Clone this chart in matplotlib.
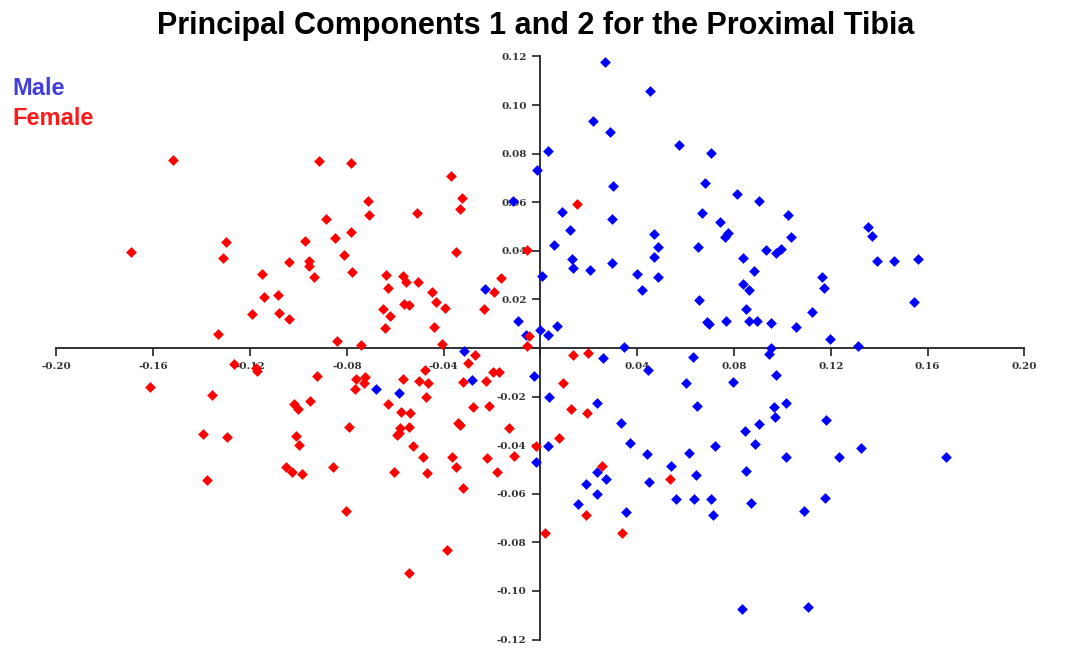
# pca_tibia_scatter.py
# Scatter of PC1 vs PC2 scores for the proximal tibia, split by sex

import matplotlib
matplotlib.use("Agg")
import matplotlib.pyplot as plt
from matplotlib.ticker import FixedLocator, FuncFormatter

plt.rcParams["axes.unicode_minus"] = False

# === 1. PC scores ===
male_pc1 = [
    0.0267, 0.0452, 0.0217, 0.0287, 0.0031, -0.0014, 0.0572, 0.0705, 0.0300, 0.0680,
    -0.0114, 0.0089, 0.0295, 0.0667, 0.0742, 0.0122, 0.0056, 0.0469, 0.0486, 0.0651,
    0.0130, 0.0134, 0.0205, 0.0295, 0.0469, 0.0486, 0.0399, 0.0419, 0.0006, -0.0229,
    -0.0093, 0.0031, 0.0068, -0.0002, -0.0060, 0.0345, 0.0655, 0.0688, 0.0696, 0.0812,
    0.0903, 0.1023, 0.1353, 0.1370, 0.0775, 0.0762, 0.1035, 0.0932, 0.0973, 0.0994,
    0.0837, 0.1390, 0.1461, 0.1560, 0.0882, 0.1163, 0.1171, 0.0837, 0.0862, 0.1543,
    0.0849, 0.1122, 0.0767, 0.0862, 0.0895, 0.0952, 0.1056, 0.1196, 0.1312, 0.0952,
    -0.0316, 0.0258, 0.0444, 0.0630, -0.0027, 0.0601, 0.0035, 0.0233, 0.0647, 0.0333,
    0.0370, 0.0031, -0.0019, 0.0440, 0.0614, 0.0721, 0.0539, 0.0233, 0.0271, 0.0188,
    0.0448, 0.0643, 0.0233, 0.0560, 0.0634, 0.0705, 0.0155, 0.0353, 0.0713, 0.0944,
    0.0973, 0.0795, 0.1014, 0.0965, 0.0969, 0.1180, 0.0903, 0.0845, 0.0886, 0.1014,
    0.1233, 0.1324, 0.1676, 0.0849, 0.0870, 0.1176, 0.1089, 0.0833, 0.1105, -0.0680,
    -0.0585, -0.0283,
]
male_pc2 = [
    0.1177, 0.1058, 0.0934, 0.0889, 0.0811, 0.0733, 0.0835, 0.0802, 0.0667, 0.0679,
    0.0605, 0.0560, 0.0531, 0.0556, 0.0519, 0.0486, 0.0424, 0.0469, 0.0416, 0.0416,
    0.0366, 0.0329, 0.0321, 0.0350, 0.0374, 0.0292, 0.0305, 0.0239, 0.0296, 0.0243,
    0.0111, 0.0053, 0.0091, 0.0074, 0.0053, 0.0004, 0.0198, 0.0107, 0.0099, 0.0634,
    0.0605, 0.0547, 0.0498, 0.0461, 0.0473, 0.0457, 0.0457, 0.0403, 0.0391, 0.0407,
    0.0370, 0.0358, 0.0358, 0.0366, 0.0317, 0.0292, 0.0247, 0.0263, 0.0239, 0.0189,
    0.0160, 0.0148, 0.0111, 0.0111, 0.0111, 0.0103, 0.0086, 0.0037, 0.0008, 0.0000,
    -0.0012, -0.0041, -0.0091, -0.0037, -0.0115, -0.0144, -0.0202, -0.0226, -0.0239, -0.0309,
    -0.0391, -0.0403, -0.0469, -0.0436, -0.0432, -0.0403, -0.0486, -0.0510, -0.0539, -0.0560,
    -0.0551, -0.0523, -0.0601, -0.0621, -0.0621, -0.0621, -0.0642, -0.0675, -0.0687, -0.0025,
    -0.0111, -0.0140, -0.0226, -0.0243, -0.0284, -0.0296, -0.0313, -0.0342, -0.0395, -0.0449,
    -0.0449, -0.0412, -0.0449, -0.0506, -0.0638, -0.0617, -0.0671, -0.1074, -0.1066, -0.0169,
    -0.0185, -0.0132,
]

female_pc1 = [
    -0.1519, -0.0915, -0.0783, -0.0886, -0.0849, -0.0783, -0.1692, -0.1300, -0.1312, -0.0973,
    -0.1039, -0.0957, -0.0957, -0.0936, -0.0812, -0.0779, -0.1151, -0.1143, -0.1085, -0.1192,
    -0.1081, -0.1039, -0.1333, -0.0841, -0.0370, -0.0713, -0.0324, -0.0333, -0.0709, -0.0510,
    -0.0349, -0.0638, -0.0630, -0.0568, -0.0556, -0.0506, -0.0448, -0.0432, -0.0564, -0.0543,
    -0.0395, -0.0651, -0.0622, -0.0643, -0.0440, -0.0407, -0.0742, -0.0056, -0.0163, -0.0192,
    -0.0233, -0.0048, -0.0056, 0.0151, 0.0134, 0.0196, -0.0225, -0.0196, -0.0171, 0.0093,
    -0.0213, 0.0126, 0.0192, -0.0130, 0.0076, -0.0019, -0.0221, -0.0110, -0.0180, 0.0254,
    0.0535, 0.0188, 0.0019, 0.0337, -0.1267, -0.1176, -0.1171, -0.1614, -0.1357, -0.0924,
    -0.0952, -0.1019, -0.1002, -0.0791, -0.1395, -0.1295, -0.1010, -0.0998, -0.1052, -0.1027,
    -0.0986, -0.0857, -0.1378, -0.0804, -0.0271, -0.0300, -0.0477, -0.0762, -0.0725, -0.0729,
    -0.0767, -0.0568, -0.0502, -0.0465, -0.0320, -0.0473, -0.0630, -0.0279, -0.0576, -0.0539,
    -0.0341, -0.0333, -0.0581, -0.0543, -0.0593, -0.0585, -0.0527, -0.0486, -0.0366, -0.0349,
    -0.0605, -0.0469, -0.0320, -0.0386, -0.0543,
]
female_pc2 = [
    0.0774, 0.0770, 0.0761, 0.0531, 0.0453, 0.0477, 0.0395, 0.0436, 0.0370, 0.0440,
    0.0354, 0.0358, 0.0337, 0.0292, 0.0383, 0.0313, 0.0305, 0.0210, 0.0218, 0.0140,
    0.0144, 0.0119, 0.0058, 0.0029, 0.0708, 0.0605, 0.0617, 0.0572, 0.0547, 0.0556,
    0.0395, 0.0300, 0.0247, 0.0296, 0.0272, 0.0272, 0.0230, 0.0189, 0.0181, 0.0177,
    0.0165, 0.0160, 0.0132, 0.0082, 0.0086, 0.0016, 0.0012, 0.0403, 0.0288, 0.0230,
    0.0160, 0.0049, 0.0008, 0.0593, -0.0029, -0.0021, -0.0136, -0.0099, -0.0099, -0.0144,
    -0.0239, -0.0251, -0.0267, -0.0329, -0.0370, -0.0403, -0.0453, -0.0444, -0.0510, -0.0486,
    -0.0539, -0.0687, -0.0761, -0.0761, -0.0066, -0.0082, -0.0095, -0.0160, -0.0193, -0.0115,
    -0.0218, -0.0230, -0.0251, -0.0325, -0.0354, -0.0366, -0.0362, -0.0399, -0.0490, -0.0510,
    -0.0519, -0.0490, -0.0543, -0.0671, -0.0029, -0.0062, -0.0091, -0.0128, -0.0119, -0.0144,
    -0.0169, -0.0128, -0.0136, -0.0144, -0.0140, -0.0202, -0.0230, -0.0243, -0.0263, -0.0267,
    -0.0309, -0.0317, -0.0329, -0.0325, -0.0358, -0.0350, -0.0403, -0.0449, -0.0449, -0.0490,
    -0.0510, -0.0514, -0.0576, -0.0831, -0.0926,
]

x_ticks = [-0.20, -0.16, -0.12, -0.08, -0.04, 0.0, 0.04, 0.08, 0.12, 0.16, 0.20]
y_ticks = [-0.12, -0.10, -0.08, -0.06, -0.04, -0.02, 0.0, 0.02, 0.04, 0.06, 0.08, 0.10, 0.12]

# === 2. Figure ===
fig = plt.figure(figsize=(10.8, 6.7), dpi=100)
ax = fig.add_axes([0.0523, 0.0454, 0.8963, 0.8704])

ax.scatter(male_pc1, male_pc2, marker="D", s=30, color="#0000ff", linewidths=0, zorder=3)
ax.scatter(female_pc1, female_pc2, marker="D", s=30, color="#ff0000", linewidths=0, zorder=3)

ax.set_xlim(-0.20, 0.20)
ax.set_ylim(-0.12, 0.12)

# axes cross at the origin
for side in ["top", "right"]:
    ax.spines[side].set_visible(False)
for side in ["left", "bottom"]:
    ax.spines[side].set_position(("data", 0))
    ax.spines[side].set_linewidth(1.3)
    ax.spines[side].set_color("#222222")
    ax.spines[side].set_zorder(2)

fmt = FuncFormatter(lambda v, pos: "" if abs(v) < 1e-9 else f"{v:.2f}")
ax.xaxis.set_major_locator(FixedLocator(x_ticks))
ax.yaxis.set_major_locator(FixedLocator(y_ticks))
ax.xaxis.set_major_formatter(fmt)
ax.yaxis.set_major_formatter(fmt)
ax.tick_params(axis="both", direction="out", length=6, width=1.2, color="#222222",
               labelsize=7.5, labelcolor="#333333", pad=4)
for lbl in ax.get_xticklabels() + ax.get_yticklabels():
    lbl.set_fontfamily("DejaVu Serif")
    lbl.set_fontweight("bold")

# === 3. Title & legend text ===
fig.text(0.496, 0.961, "Principal Components 1 and 2 for the Proximal Tibia",
         ha="center", va="center", fontsize=22, fontweight="bold", family="Liberation Sans")
fig.text(0.011, 0.868, "Male", ha="left", va="center", fontsize=17, fontweight="bold",
         color="#4040d8", family="Liberation Sans")
fig.text(0.011, 0.823, "Female", ha="left", va="center", fontsize=17, fontweight="bold",
         color="#ff1a1a", family="Liberation Sans")

fig.savefig("out.png", dpi=100)
plt.close(fig)
